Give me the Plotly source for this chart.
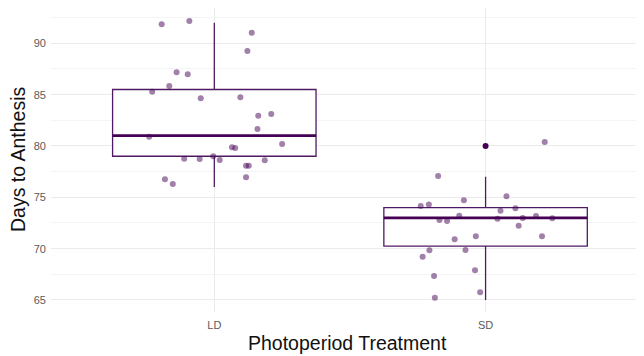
import numpy as np
import plotly.graph_objects as go

# ---- data ----
categories = ["LD", "SD"]
ld_days = [92, 92, 91, 89, 87, 87, 86, 85, 85, 85, 83, 83, 82, 81, 80, 80, 80,
           79, 79, 79, 79, 79, 78, 78, 77, 77, 76]
ld_jitter_x = [-0.194, -0.092, 0.138, 0.122, -0.139, -0.098, -0.166, -0.229, -0.050,
               0.096, 0.162, 0.210, 0.159, -0.240, 0.065, 0.077, 0.250, -0.111,
               -0.054, -0.004, 0.020, 0.186, 0.117, 0.127, 0.117, -0.182, -0.153]
ld_jitter_y = [-0.15, 0.17, 0.03, 0.25, 0.18, -0.02, -0.16, 0.29, -0.36, -0.26, -0.05,
               0.12, -0.34, -0.09, -0.13, -0.19, 0.19, -0.24, -0.27, 0.0, -0.36, -0.39,
               0.08, 0.08, -0.05, -0.24, 0.30]
sd_days = [80, 77, 74, 74, 75, 75, 74, 74, 73, 73, 73, 73, 73, 73, 73, 72, 71, 71, 71,
           70, 70, 69, 67, 68, 66, 65]
sd_jitter_x = [0.218, -0.175, -0.239, -0.209, -0.080, 0.077, 0.055, 0.110, -0.170,
               -0.142, -0.097, 0.044, 0.137, 0.186, 0.246, 0.122, -0.114, -0.036,
               0.208, -0.207, -0.074, -0.232, -0.190, -0.039, -0.020, -0.187]
sd_jitter_y = [0.39, 0.08, 0.16, 0.29, -0.29, 0.10, -0.30, -0.07, -0.20, -0.30, 0.21,
               -0.08, -0.01, 0.18, -0.04, 0.24, -0.08, 0.21, 0.21, -0.16, -0.13, 0.22,
               0.34, -0.10, -0.25, 0.23]
y_ticks = [65, 70, 75, 80, 85, 90]
x_title = "Photoperiod Treatment"
y_title = "Days to Anthesis"

PURPLE = "#440154"
BOX_LINE = "#4F1A63"
BOX_W = 0.75

groups = [(1, ld_days, ld_jitter_x, ld_jitter_y), (2, sd_days, sd_jitter_x, sd_jitter_y)]

fig = go.Figure()
for pos, days, jx, jy in groups:
    d = np.array(days, dtype=float)
    q1, med, q3 = np.percentile(d, [25, 50, 75])
    iqr = q3 - q1
    lo_f, hi_f = q1 - 1.5 * iqr, q3 + 1.5 * iqr
    inside = d[(d >= lo_f) & (d <= hi_f)]
    outl = d[(d < lo_f) | (d > hi_f)]
    fig.add_trace(go.Box(
        x=[pos], q1=[q1], median=[med], q3=[q3],
        lowerfence=[inside.min()], upperfence=[inside.max()],
        width=BOX_W, whiskerwidth=0, fillcolor="white",
        line=dict(color=BOX_LINE, width=1.3), boxpoints=False,
        showlegend=False, hoverinfo="skip"))
    fig.add_trace(go.Scatter(
        x=[pos - BOX_W / 2, pos + BOX_W / 2], y=[med, med], mode="lines",
        line=dict(color=PURPLE, width=2.8), showlegend=False, hoverinfo="skip"))
    if len(outl):
        fig.add_trace(go.Scatter(
            x=[pos] * len(outl), y=outl, mode="markers",
            marker=dict(color=PURPLE, size=6), showlegend=False))

for pos, days, jx, jy in groups:
    fig.add_trace(go.Scatter(
        x=[pos + a for a in jx], y=[v + b for v, b in zip(days, jy)], mode="markers",
        marker=dict(color=PURPLE, size=6, opacity=0.5, line=dict(width=0)),
        showlegend=False))

# page body has an 8px margin, so the figure is offset by 8px in the window
fig.update_layout(
    width=636, height=348,
    margin=dict(l=43, r=0, t=0, b=44),
    paper_bgcolor="white", plot_bgcolor="white",
    font=dict(family="Liberation Sans, Arial, sans-serif"),
    xaxis=dict(
        range=[0.398, 2.584], tickvals=[1, 2], ticktext=categories,
        showgrid=True, gridcolor="#EBEBEB", gridwidth=1.1, zeroline=False,
        tickfont=dict(size=11, color="#5A5A5A"), ticks="", ticklabelstandoff=5,
        automargin=False, showline=False),
    yaxis=dict(
        range=[63.83, 93.44], tickvals=y_ticks,
        showgrid=True, gridcolor="#EBEBEB", gridwidth=1.1, zeroline=False,
        minor=dict(dtick=2.5, tick0=62.5, showgrid=True, gridcolor="#F4F4F4", gridwidth=0.6),
        tickfont=dict(size=11, color="#5A5A5A"), ticks="", ticklabelstandoff=4,
        automargin=False, showline=False),
    annotations=[
        dict(text=x_title, xref="paper", yref="paper", x=0.5, y=0, yshift=-31,
             xanchor="center", yanchor="middle", showarrow=False,
             font=dict(size=19.5, color="#111111")),
        dict(text=y_title, xref="paper", yref="paper", x=0, y=0.5, xshift=-33,
             xanchor="center", yanchor="middle", showarrow=False, textangle=-90,
             font=dict(size=19.5, color="#111111")),
    ],
)

fig.write_html("out.html")
